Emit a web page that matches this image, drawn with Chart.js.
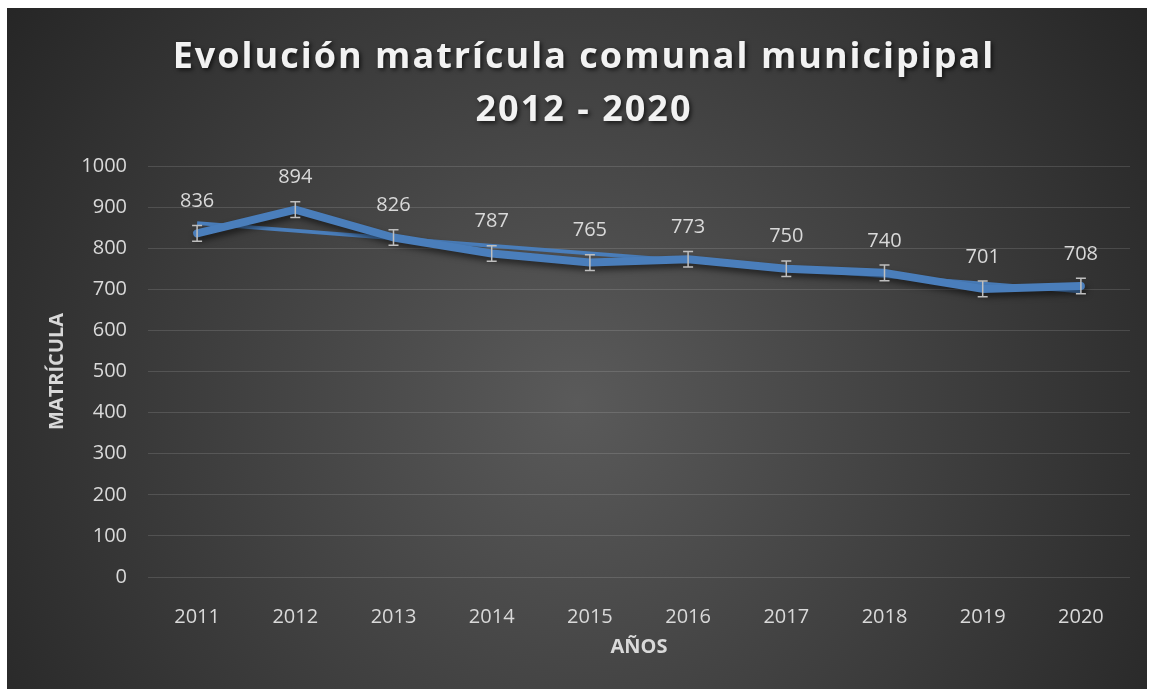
<!DOCTYPE html>
<html>
<head>
<meta charset="utf-8">
<script src="https://cdn.jsdelivr.net/npm/chart.js@4.4.1/dist/chart.umd.min.js"></script>
<style>
    html, body { margin: 0; padding: 0; background: #ffffff; }
    #chart-box { position: absolute; left: 7px; top: 8px; width: 1140px; height: 681px; }
</style>
</head>
<body>
<div id="chart-box"><canvas id="matricula-chart"></canvas></div>
<script>
// valores
var years = ['2011', '2012', '2013', '2014', '2015', '2016', '2017', '2018', '2019', '2020'];
var matricula = [836, 894, 826, 787, 765, 773, 750, 740, 701, 708];
var errorMargin = [19, 19, 19, 19, 19, 19, 19, 19, 19, 19];
// linea de tendencia: solo sus extremos
var trend = [861, null, null, null, null, null, null, null, null, 695];
var titleLines = ['Evolución matrícula comunal municipipal', '2012 - 2020'];

var labelColor = '#d9d9d9';
var lineColor = '#4a7ebb';

var backgroundPlugin = {
    id: 'bgGradient',
    beforeDraw: function (chart) {
        var ctx = chart.ctx;
        var w = chart.width, h = chart.height;
        var cx = w / 2, cy = h * 0.58;
        var g = ctx.createRadialGradient(cx, cy, 0, cx, cy, Math.sqrt(cx * cx + cy * cy));
        g.addColorStop(0, '#5a5a5a');
        g.addColorStop(1, '#262626');
        ctx.save();
        ctx.fillStyle = g;
        ctx.fillRect(0, 0, w, h);
        ctx.restore();
    }
};

var titlePlugin = {
    id: 'spacedTitle',
    afterDraw: function (chart) {
        var ctx = chart.ctx;
        ctx.save();
        ctx.font = 'bold 36px "Open Sans"';
        ctx.letterSpacing = '2px';
        ctx.fillStyle = '#f2f2f2';
        ctx.textAlign = 'center';
        ctx.textBaseline = 'alphabetic';
        ctx.shadowColor = 'rgba(0,0,0,0.65)';
        ctx.shadowBlur = 4;
        ctx.shadowOffsetX = 2;
        ctx.shadowOffsetY = 2;
        ctx.fillText(titleLines[0], 577, 60);
        ctx.fillText(titleLines[1], 577, 113);
        ctx.restore();
    }
};

var lineShadowPlugin = {
    id: 'lineShadow',
    beforeDatasetDraw: function (chart, args) {
        if (args.index !== 0) return;
        var ctx = chart.ctx;
        ctx.save();
        ctx.shadowColor = 'rgba(0,0,0,0.55)';
        ctx.shadowBlur = 6;
        ctx.shadowOffsetX = 2;
        ctx.shadowOffsetY = 4;
    },
    afterDatasetDraw: function (chart, args) {
        if (args.index !== 0) return;
        chart.ctx.restore();
    }
};

var errorBarsAndLabels = {
    id: 'errorBarsAndLabels',
    afterDatasetsDraw: function (chart) {
        var ctx = chart.ctx;
        var y = chart.scales.y;
        var meta = chart.getDatasetMeta(0);
        ctx.save();
        ctx.strokeStyle = '#bfbfbf';
        ctx.lineWidth = 1.5;
        $each(meta.data, function (pt, i) {
            var top = y.getPixelForValue(matricula[i] + errorMargin[i]);
            var bottom = y.getPixelForValue(matricula[i] - errorMargin[i]);
            ctx.beginPath();
            ctx.moveTo(pt.x, top);
            ctx.lineTo(pt.x, bottom);
            ctx.moveTo(pt.x - 5, top);
            ctx.lineTo(pt.x + 5, top);
            ctx.moveTo(pt.x - 5, bottom);
            ctx.lineTo(pt.x + 5, bottom);
            ctx.stroke();
        });
        ctx.font = '20px "Open Sans"';
        ctx.fillStyle = labelColor;
        ctx.textAlign = 'center';
        ctx.textBaseline = 'middle';
        $each(meta.data, function (pt, i) {
            ctx.fillText(String(matricula[i]), pt.x, pt.y - 32);
        });
        ctx.restore();
    }
};

function $each(list, fn) {
    for (var i = 0; i < list.length; i++) fn(list[i], i);
}

var ctx = document.getElementById('matricula-chart');
var MatriculaChart = new Chart(ctx, {
    type: 'line',
    data: {
        labels: years,
        datasets: [{
            label: 'Matrícula',
            data: matricula,
            borderColor: lineColor,
            backgroundColor: lineColor,
            borderWidth: 8,
            pointRadius: 0,
            tension: 0,
            borderJoinStyle: 'round',
            borderCapStyle: 'round',
            order: 1
        }, {
            label: 'Tendencia',
            data: trend,
            spanGaps: true,
            borderColor: lineColor,
            borderWidth: 4,
            pointRadius: 0,
            tension: 0,
            order: 2
        }]
    },
    plugins: [backgroundPlugin, lineShadowPlugin, errorBarsAndLabels, titlePlugin],
    options: {
        responsive: true,
        maintainAspectRatio: false,
        animation: false,
        layout: {
            padding: { top: 158, right: 17, left: 0, bottom: 0 }
        },
        plugins: {
            legend: { display: false },
            title: { display: false },
            tooltip: { enabled: false }
        },
        scales: {
            x: {
                offset: true,
                grid: { display: false },
                border: { display: false },
                ticks: {
                    color: labelColor,
                    font: { family: 'Open Sans', size: 20 },
                    padding: 20,
                    maxRotation: 0
                },
                title: {
                    display: true,
                    text: 'AÑOS',
                    color: labelColor,
                    font: { family: 'Open Sans', size: 20, weight: 'bold' },
                    padding: { top: 0, bottom: 30 }
                },
                afterFit: function (scale) { scale.height = 112; }
            },
            y: {
                min: 0,
                max: 1000,
                grid: {
                    color: 'rgba(255,255,255,0.13)',
                    lineWidth: 1,
                    drawTicks: false
                },
                border: { display: false },
                ticks: {
                    stepSize: 100,
                    color: labelColor,
                    font: { family: 'Open Sans', size: 20 },
                    padding: 21,
                    callback: function (value) { return String(value); }
                },
                title: {
                    display: true,
                    text: 'MATRÍCULA',
                    color: labelColor,
                    font: { family: 'Open Sans', size: 20, weight: 'bold' },
                    padding: { top: 38, bottom: 0 }
                },
                afterFit: function (scale) { scale.width = 141; }
            }
        }
    }
});
</script>
</body>
</html>
